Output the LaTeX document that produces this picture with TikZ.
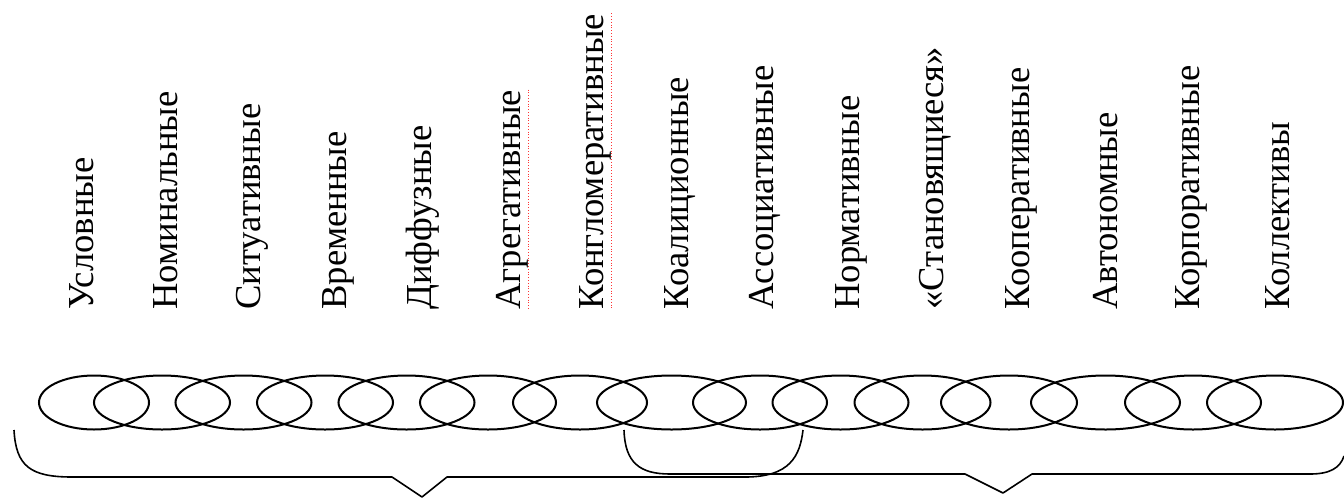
\documentclass[tikz,border=0pt]{standalone}
\usepackage{fontspec}
\setmainfont{Liberation Serif}
\usetikzlibrary{shapes.geometric}

\begin{document}
\begin{tikzpicture}[x=0.5pt,y=-0.5pt,
    ring/.style={ellipse,draw,line width=1pt,inner sep=0pt,minimum height=27pt,minimum width=68pt},
    wide ring/.style={ring,minimum width=74.5pt},
    word node/.style={rotate=90,anchor=west,inner sep=0pt,font=\fontsize{18.3}{20}\selectfont},
    brace line/.style={line width=0.8pt,line join=round}]

    \useasboundingbox (0,0) rectangle (1344,499);

    % words
    \node[word node] (l1) at (82,310) {Условные};
    \node[word node] (l2) at (166,310) {Номинальные};
    \node[word node] (l3) at (252,310) {Ситуативные};
    \node[word node] (l4) at (338,310) {Временные};
    \node[word node] (l5) at (423,310) {Диффузные};
    \node[word node] (l6) at (512,310) {Агрегативные};
    \node[word node] (l7) at (595,310) {Конгломеративные};
    \node[word node] (l8) at (680,310) {Коалиционные};
    \node[word node] (l9) at (765,310) {Ассоциативные};
    \node[word node] (l10) at (851,310) {Нормативные};
    \node[word node] (l11) at (935,310) {«Становящиеся»};
    \node[word node] (l12) at (1021,310) {Кооперативные};
    \node[word node] (l13) at (1106,310) {Автономные};
    \node[word node] (l14) at (1191,310) {Корпоративные};
    \node[word node] (l15) at (1278,310) {Коллективы};

    % spell check marks
    \draw[red!80,densely dotted,line width=0.4pt] (l6.south east) -- (l6.south west);
    \draw[red!80,densely dotted,line width=0.4pt] (l7.south east) -- (l7.south west);

    % chain of ovals
    \node[ring,minimum width=55pt] (o1) at (94,402.5) {};
    \node[ring] (o2) at (162,402.5) {};
    \node[ring] (o3) at (243.5,402.5) {};
    \node[ring] (o4) at (325,402.5) {};
    \node[ring] (o5) at (406.5,402.5) {};
    \node[ring] (o6) at (488,402.5) {};
    \node[ring,minimum width=67pt] (o7) at (580,402.5) {};
    \node[wide ring] (o8) at (671.5,402.5) {};
    \node[ring,minimum width=67pt] (o9) at (760,402.5) {};
    \node[ring] (o10) at (840.5,402.5) {};
    \node[ring] (o11) at (922.5,402.5) {};
    \node[ring] (o12) at (1009,402.5) {};
    \node[wide ring] (o13) at (1105.5,402.5) {};
    \node[ring] (o14) at (1193,402.5) {};
    \node[ring] (o15) at (1275,402.5) {};

    % braces
    \coordinate (b1) at (14,430);
    \coordinate (b2) at (422,497);
    \coordinate (b3) at (803,430);
    \coordinate (c1) at (624,430);
    \coordinate (c2) at (1003,493);
    \coordinate (c3) at (1344,456);

    \draw[brace line] (b1) .. controls (16,466) and (30,477) .. (72,477)
        -- (392,477) -- (b2) -- (447,477) -- (745,477)
        .. controls (790,477) and (800,456) .. (b3);
    \draw[brace line] (c1) .. controls (625,463) and (640,474) .. (670,474)
        -- (965,474) -- (c2) -- (1032,474) -- (1310,474)
        .. controls (1330,474) and (1340,468) .. (c3);
\end{tikzpicture}
\end{document}
